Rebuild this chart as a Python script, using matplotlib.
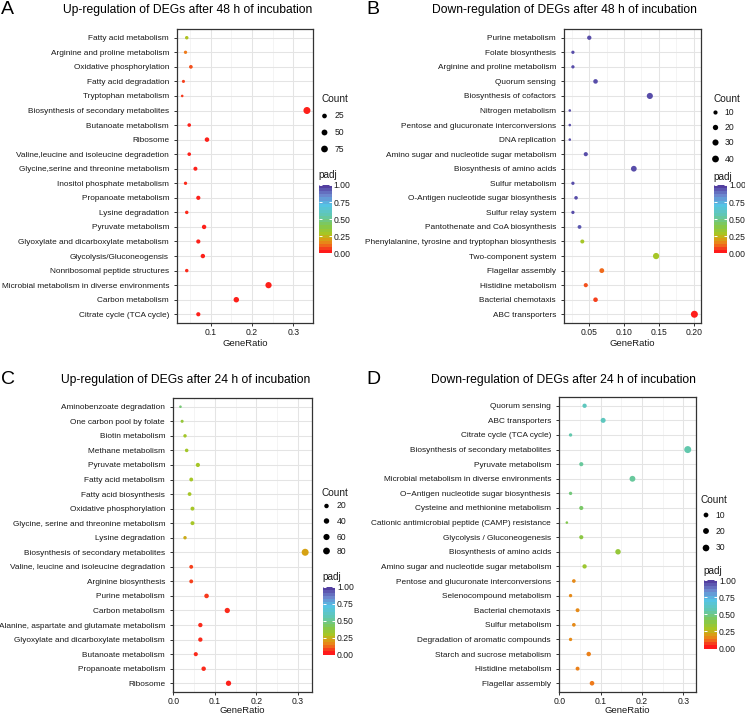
import numpy as np
import matplotlib
matplotlib.use('Agg')
import matplotlib.pyplot as plt
from matplotlib.colors import LinearSegmentedColormap, Normalize
from matplotlib.cm import ScalarMappable
from matplotlib.ticker import FixedLocator

plt.rcParams['font.family'] = ['Liberation Sans', 'DejaVu Sans']

# ---------------- data ----------------
a_terms = ["Fatty acid metabolism", "Arginine and proline metabolism", "Oxidative phosphorylation",
           "Fatty acid degradation", "Tryptophan metabolism", "Biosynthesis of secondary metabolites",
           "Butanoate metabolism", "Ribosome", "Valine,leucine and isoleucine degradetion",
           "Glycine,serine and threonine metabolism", "Inositol phosphate metabolism",
           "Propanoate metabolism", "Lysine degradation", "Pyruvate metabolism",
           "Glyoxylate and dicarboxylate metabolism", "Glycolysis/Gluconeogensis",
           "Nonribosomal peptide structures", "Microbial metabolism in diverse environments",
           "Carbon metabolism", "Citrate cycle (TCA cycle)"]
a_ratio = [0.042, 0.039, 0.052, 0.034, 0.031, 0.333, 0.048, 0.091, 0.048, 0.063,
           0.039, 0.070, 0.042, 0.084, 0.070, 0.081, 0.042, 0.240, 0.162, 0.070]
a_count = [11, 10, 13, 9, 8, 85, 12, 23, 12, 16, 10, 18, 11, 21, 18, 21, 11, 61, 41, 18]
a_padj = [0.27, 0.12, 0.07, 0.05, 0.04, 0.01, 0.01, 0.01, 0.01, 0.01,
          0.02, 0.01, 0.02, 0.01, 0.01, 0.01, 0.02, 0.01, 0.01, 0.01]

b_terms = ["Purine metabolism", "Folate biosynthesis", "Arginine and proline metabolism",
           "Quorum sensing", "Biosynthesis of cofactors", "Nitrogen metabolism",
           "Pentose and glucuronate interconversions", "DNA replication",
           "Amino sugar and nucleotide sugar metabolism", "Biosynthesis of amino acids",
           "Sulfur metabolism", "O-Antigen nucleotide sugar biosynthesis", "Sulfur relay system",
           "Pantothenate and CoA biosynthesis", "Phenylalanine, tyrosine and tryptophan biosynthesis",
           "Two-component system", "Flagellar assembly", "Histidine metabolism",
           "Bacterial chemotaxis", "ABC transporters"]
b_ratio = [0.050, 0.0265, 0.0265, 0.059, 0.137, 0.022, 0.022, 0.022, 0.045, 0.114,
           0.0265, 0.031, 0.0265, 0.036, 0.040, 0.146, 0.068, 0.045, 0.059, 0.201]
b_count = [11, 6, 6, 13, 30, 5, 5, 5, 10, 25, 6, 7, 6, 8, 9, 32, 15, 10, 13, 44]
b_padj = [0.97, 0.97, 0.97, 0.97, 0.97, 0.97, 0.97, 0.97, 0.97, 0.97,
          0.97, 0.97, 0.97, 0.95, 0.29, 0.29, 0.10, 0.07, 0.05, 0.005]

c_terms = ["Aminobenzoate degradation", "One carbon pool by folate", "Biotin metabolism",
           "Methane metabolism", "Pyruvate metabolism", "Fatty acid metabolism",
           "Fatty acid biosynthesis", "Oxidative phosphorylation",
           "Glycine, serine and threonine metabolism", "Lysine degradation",
           "Biosynthesis of secondary metabolites", "Valine, leucine and isoleucine degradation",
           "Arginine biosynthesis", "Purine metabolism", "Carbon metabolism",
           "Alanine, aspartate and glutamate metabolism", "Glyoxylate and dicarboxylate metabolism",
           "Butanoate metabolism", "Propanoate metabolism", "Ribosome"]
c_ratio = [0.017, 0.021, 0.028, 0.032, 0.059, 0.043, 0.039, 0.046, 0.046, 0.028,
           0.318, 0.043, 0.043, 0.080, 0.130, 0.065, 0.065, 0.054, 0.073, 0.133]
c_count = [5, 6, 8, 9, 16, 12, 11, 13, 13, 8, 89, 12, 12, 22, 36, 18, 18, 15, 20, 37]
c_padj = [0.46, 0.34, 0.30, 0.30, 0.29, 0.29, 0.29, 0.29, 0.29, 0.22,
          0.20, 0.05, 0.05, 0.04, 0.02, 0.02, 0.02, 0.02, 0.02, 0.01]

d_terms = ["Quorum sensing", "ABC transporters", "Citrate cycle (TCA cycle)",
           "Biosynthesis of secondary metabolites", "Pyruvate metabolism",
           "Microbial metabolism in diverse environments", "O\u2212Antigen nucleotide sugar biosynthesis",
           "Cysteine and methionine metabolism", "Cationic antimicrobial peptide (CAMP) resistance",
           "Glycolysis / Gluconeogenesis", "Biosynthesis of amino acids",
           "Amino sugar and nucleotide sugar metabolism", "Pentose and glucuronate interconversions",
           "Selenocompound metabolism", "Bacterial chemotaxis", "Sulfur metabolism",
           "Degradation of aromatic compounds", "Starch and sucrose metabolism",
           "Histidine metabolism", "Flagellar assembly"]
d_ratio = [0.061, 0.106, 0.027, 0.311, 0.053, 0.177, 0.027, 0.053, 0.018, 0.053,
           0.142, 0.061, 0.035, 0.027, 0.044, 0.035, 0.027, 0.071, 0.044, 0.079]
d_count = [7, 12, 3, 35, 6, 20, 3, 6, 2, 6, 16, 7, 4, 3, 5, 4, 3, 8, 5, 9]
d_padj = [0.60, 0.60, 0.55, 0.55, 0.52, 0.52, 0.47, 0.44, 0.40, 0.37,
          0.34, 0.32, 0.15, 0.15, 0.15, 0.15, 0.15, 0.13, 0.13, 0.12]

titles = ["Up-regulation of DEGs after 48 h of incubation",
          "Down-regulation of DEGs after 48 h of incubation",
          "Up-regulation of DEGs after 24 h of incubation",
          "Down-regulation of DEGs after 24 h of incubation"]
letters = ["A", "B", "C", "D"]
size_breaks = [[25, 50, 75], [10, 20, 30, 40], [20, 40, 60, 80], [10, 20, 30]]
major_ticks = [[0.1, 0.2, 0.3], [0.05, 0.10, 0.15, 0.20], [0.0, 0.1, 0.2, 0.3], [0.0, 0.1, 0.2, 0.3]]
tick_fmt = ["{:.1f}", "{:.2f}", "{:.1f}", "{:.1f}"]
padj_breaks = [0.0, 0.25, 0.5, 0.75, 1.0]

# ---------------- layout (pixels) ----------------
W, H = 745, 715
fig = plt.figure(figsize=(W / 100, H / 100), dpi=100)

def px_axes(l, t, r, b, **kw):
    return fig.add_axes([l / W, 1 - b / H, (r - l) / W, (b - t) / H], **kw)

panels = [
    dict(terms=a_terms, ratio=a_ratio, count=a_count, padj=a_padj,
         box=(177, 29, 313, 323), xlim=(0.0184, 0.3477), xlabpad=2.0,
         title=(187.5, 10.5), letter=(1, 9),
         count_title=(321.5, 99), leg_dot_x=324.5, leg_lab_x=335, leg_y=[116, 132.5, 149],
         padj_title=(318.5, 175.5), cbar=(318.5, 185, 331.5, 253.5)),
    dict(terms=b_terms, ratio=b_ratio, count=b_count, padj=b_padj,
         box=(564, 29, 701, 323), xlim=(0.0137, 0.2105), xlabpad=2.0,
         title=(564.5, 10.5), letter=(366, 9),
         count_title=(713.5, 99), leg_dot_x=715.5, leg_lab_x=724.5, leg_y=[112.5, 127.5, 142.5, 159],
         padj_title=(713.5, 176.5), cbar=(714, 185, 727, 253.5)),
    dict(terms=c_terms, ratio=c_ratio, count=c_count, padj=c_padj,
         box=(173, 398, 312, 692), xlim=(-0.001, 0.3345), xlabpad=0.3,
         title=(186, 380), letter=(1, 379),
         count_title=(321.5, 493), leg_dot_x=326.5, leg_lab_x=336.5, leg_y=[506, 521, 537, 551],
         padj_title=(322, 577), cbar=(322.5, 587, 335, 654.5)),
    dict(terms=d_terms, ratio=d_ratio, count=d_count, padj=d_padj,
         box=(559, 397, 696, 692), xlim=(-0.001, 0.331), xlabpad=0.3,
         title=(563, 379.5), letter=(366, 379),
         count_title=(700.5, 500), leg_dot_x=706, leg_lab_x=715.5, leg_y=[515, 531, 548],
         padj_title=(703.5, 571), cbar=(704, 580, 717, 648.5)),
]

cmap = LinearSegmentedColormap.from_list("padj", [
    (0.00, "#FF1A1A"), (0.05, "#F5421C"), (0.12, "#EE7C1A"), (0.20, "#D6A214"),
    (0.28, "#A9C623"), (0.40, "#82C84E"), (0.55, "#62C8AE"), (0.72, "#55C4E6"),
    (0.86, "#6C86CE"), (1.00, "#533FA0")])
norm = Normalize(0, 1)

overlay = fig.add_axes([0, 0, 1, 1], zorder=10)
overlay.set_xlim(0, W)
overlay.set_ylim(H, 0)
overlay.axis("off")

D0, D1 = 2.6, 7.0  # dot diameter range in pixels

def dot_size(c, cmin, cmax):
    c = np.asarray(c, dtype=float)
    frac = np.clip((c - cmin) / (cmax - cmin), 0, 1)
    d_px = D0 + (D1 - D0) * np.sqrt(frac)
    return (d_px * 0.72) ** 2

TXT = "#1A1A1A"
for i, p in enumerate(panels):
    ax = px_axes(*p["box"])
    n = len(p["terms"])
    y = np.arange(n)[::-1]
    cmin, cmax = min(p["count"]), max(p["count"])
    ax.set_axisbelow(True)
    ax.scatter(p["ratio"], y, s=dot_size(p["count"], cmin, cmax), c=p["padj"],
               cmap=cmap, norm=norm, linewidths=0, zorder=3)
    ax.set_ylim(-0.6, n - 1 + 0.6)
    ax.set_xlim(*p["xlim"])
    ax.set_yticks(y)
    ax.set_yticklabels(p["terms"], fontsize=5.95, color=TXT)
    mt = major_ticks[i]
    ax.xaxis.set_major_locator(FixedLocator(mt))
    ax.set_xticklabels([tick_fmt[i].format(v) for v in mt], fontsize=6.2, color=TXT)
    step = mt[1] - mt[0]
    minors = [v + step / 2 for v in [mt[0] - step] + mt]
    ax.xaxis.set_minor_locator(FixedLocator(minors))
    ax.tick_params(axis="y", which="major", length=2.2, width=0.7, color="#333333", pad=3.5)
    ax.tick_params(axis="x", which="major", length=2.2, width=0.7, color="#333333", pad=1.2)
    ax.tick_params(axis="x", which="minor", length=0)
    ax.grid(True, which="major", color="#E4E4E4", linewidth=0.75)
    ax.grid(True, which="minor", axis="x", color="#EEEEEE", linewidth=0.45)
    for sp in ax.spines.values():
        sp.set_color("#333333")
        sp.set_linewidth(0.9)
    ax.set_xlabel("GeneRatio", fontsize=6.8, color=TXT, labelpad=p["xlabpad"])

    # titles and panel letters
    overlay.text(p["title"][0], p["title"][1], titles[i], fontsize=8.7, ha="center", va="center", color="black")
    overlay.text(p["letter"][0], p["letter"][1], letters[i], fontsize=14, ha="left", va="center", color="black")

    # size legend
    overlay.text(p["count_title"][0], p["count_title"][1], "Count", fontsize=7.2, ha="left", va="center", color=TXT)
    brk = size_breaks[i]
    overlay.scatter([p["leg_dot_x"]] * len(brk), p["leg_y"], s=dot_size(brk, cmin, cmax), c="black", linewidths=0)
    for bv, yy in zip(brk, p["leg_y"]):
        overlay.text(p["leg_lab_x"], yy, str(bv), fontsize=6.2, ha="left", va="center", color=TXT)

    # colour bar
    overlay.text(p["padj_title"][0], p["padj_title"][1], "padj", fontsize=7.2, ha="left", va="center", color=TXT)
    cax = px_axes(*p["cbar"])
    cb = fig.colorbar(ScalarMappable(norm=norm, cmap=cmap.resampled(22)), cax=cax)
    cb.outline.set_visible(False)
    cb.set_ticks(padj_breaks)
    cb.set_ticklabels(["{:.2f}".format(v) for v in padj_breaks])
    cax.tick_params(axis="y", direction="in", length=2.5, width=0.7, colors="white",
                    left=True, right=True, labelsize=6.2, labelcolor=TXT, pad=1.5)

fig.savefig("out.png", dpi=100)
